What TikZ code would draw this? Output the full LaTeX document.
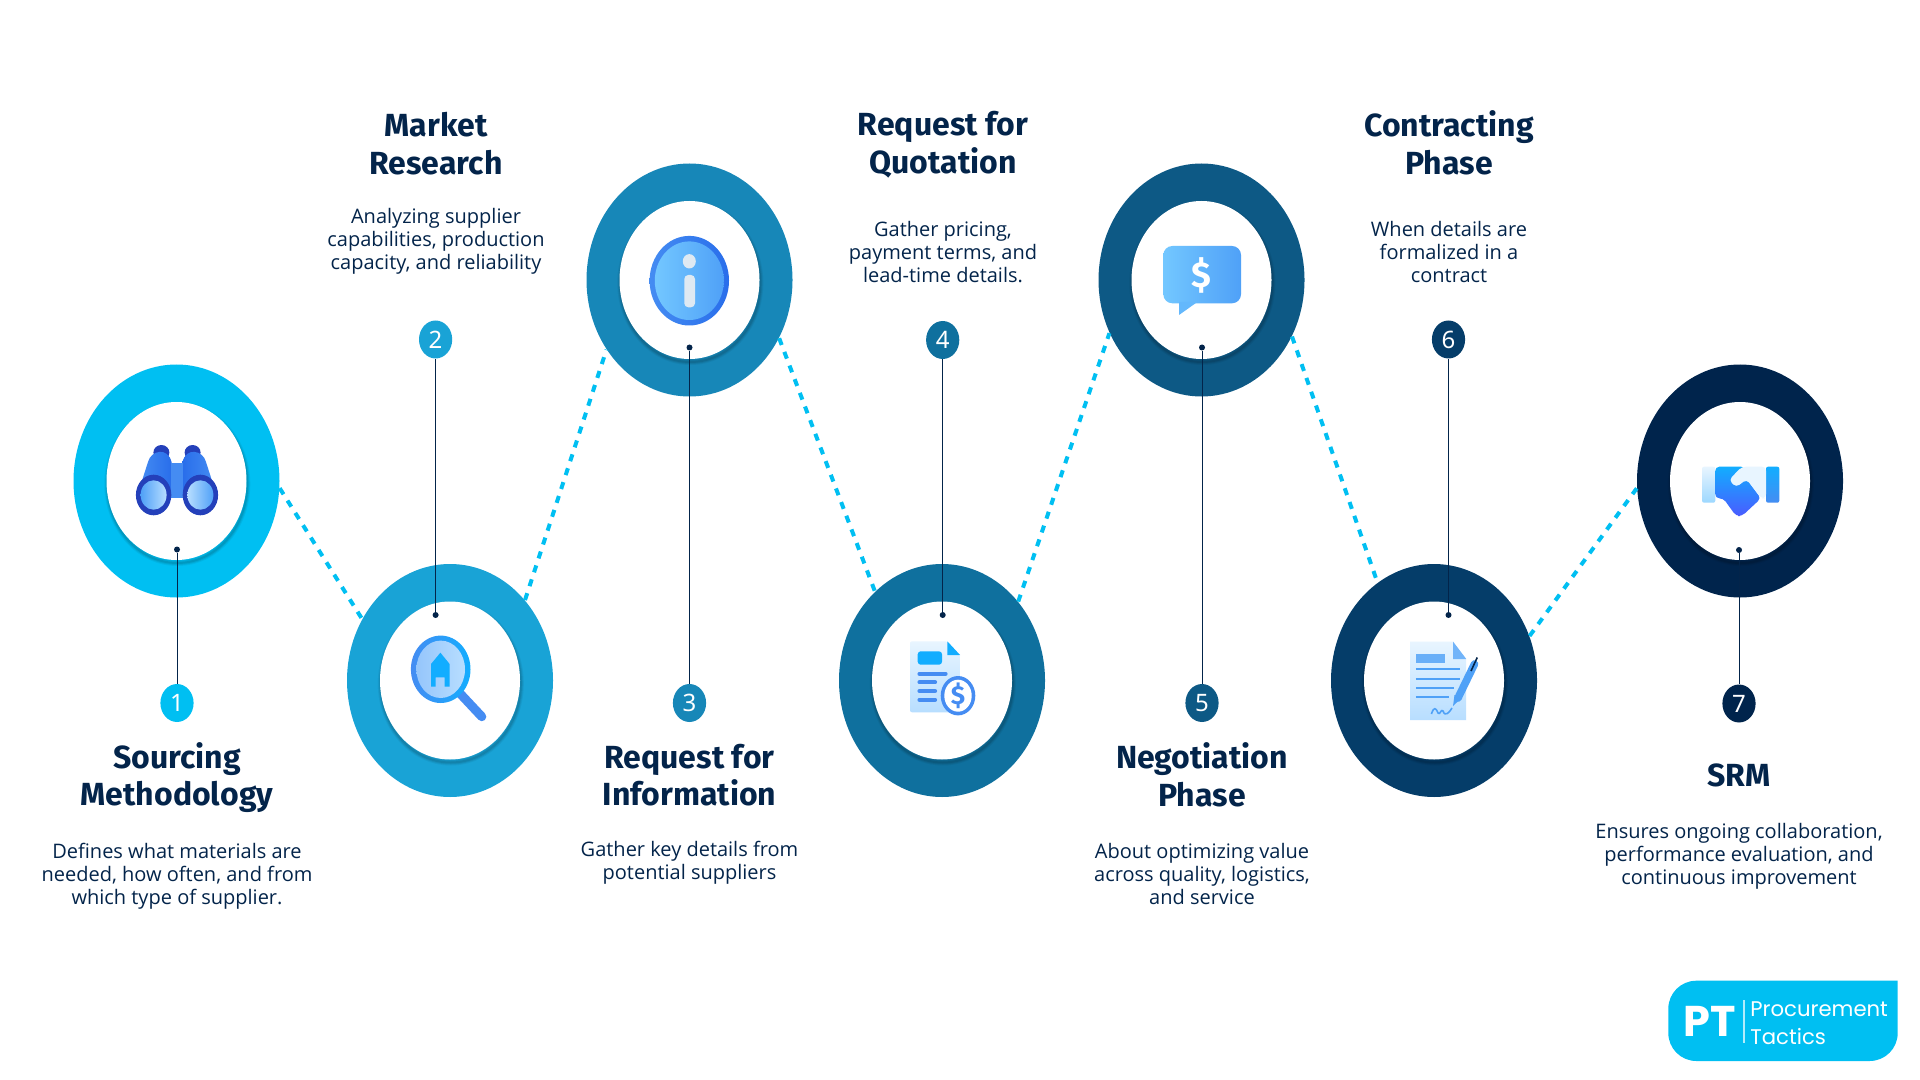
\documentclass[tikz,border=0pt]{standalone}
\usepackage{fontspec}
\setmainfont{Open Sans}
\newfontfamily\headfont{Fira Sans}
\newfontfamily\digitfont{Noto Sans}
\newfontfamily\logofont{Poppins}
\usetikzlibrary{shapes.geometric}
\definecolor{ringa}{rgb}{0,0.75,0.95}
\definecolor{ringb}{rgb}{0.1,0.64,0.84}
\definecolor{ringc}{rgb}{0.09,0.53,0.72}
\definecolor{ringd}{rgb}{0.06,0.44,0.62}
\definecolor{ringe}{rgb}{0.05,0.35,0.52}
\definecolor{ringf}{rgb}{0.02,0.24,0.41}
\definecolor{ringg}{rgb}{0,0.14,0.3}
\definecolor{inkblue}{rgb}{0.01,0.14,0.29}
\definecolor{icondark}{rgb}{0.14,0.25,0.73}
\definecolor{iconmid}{rgb}{0.16,0.43,0.92}
\definecolor{iconblue}{rgb}{0.27,0.55,0.95}
\definecolor{iconsky}{rgb}{0.07,0.68,1}
\definecolor{iconpale}{rgb}{0.91,0.96,1}
\definecolor{iconsoft}{rgb}{0.72,0.87,1}
\definecolor{iconlight}{rgb}{0.45,0.78,1}
\definecolor{iconwarm}{rgb}{0.31,0.63,0.97}
\definecolor{iconviolet}{rgb}{0.29,0.36,1}
\tikzset{
  ring/.style={ellipse,minimum width=103pt,minimum height=116.5pt,inner sep=0pt},
  hole/.style={ellipse,fill=white,minimum width=70pt,minimum height=79pt,inner sep=0pt,
    preaction={draw=black,draw opacity=0.05,line width=3pt,transform canvas={xshift=0.4pt,yshift=-1.5pt}},
    preaction={draw=black,draw opacity=0.07,line width=2pt,transform canvas={xshift=0.4pt,yshift=-1.5pt}},
    preaction={draw=black,draw opacity=0.09,line width=1pt,transform canvas={xshift=0.4pt,yshift=-1.5pt}}},
  badge/.style={ellipse,minimum width=16.6pt,minimum height=19pt,inner sep=0pt,text=white,font=\digitfont\fontsize{12}{12}\selectfont},
  pin/.style={circle,fill=inkblue,minimum size=3pt,inner sep=0pt},
  stem/.style={color=inkblue,line width=0.5pt},
  dotline/.style={color=ringa,line width=2pt,dash pattern=on 3.6pt off 3.7pt},
  title/.style={align=center,text=inkblue,font=\headfont\fontsize{16}{18.8}\selectfont\bfseries},
  desc/.style={align=center,text=inkblue,font=\fontsize{10}{11.6}\selectfont}
}
\begin{document}
\begin{tikzpicture}[line cap=butt,line join=round,x=0.5pt,y=-0.5pt]
\useasboundingbox (0,0) rectangle (1920,1080);
\node [ring,fill=ringa] (ring1) at (176.5,481) {};
\node [ring,fill=ringb] (ring2) at (450,680.5) {};
\node [ring,fill=ringc] (ring3) at (689.5,280) {};
\node [ring,fill=ringd] (ring4) at (942,680.5) {};
\node [ring,fill=ringe] (ring5) at (1201.5,280) {};
\node [ring,fill=ringf] (ring6) at (1434,680.5) {};
\node [ring,fill=ringg] (ring7) at (1740,481) {};
\node [hole] (hole1) at (176.5,481) {};
\node [hole] (hole2) at (450,680.5) {};
\node [hole] (hole3) at (689.5,280) {};
\node [hole] (hole4) at (942,680.5) {};
\node [hole] (hole5) at (1201.5,280) {};
\node [hole] (hole6) at (1434,680.5) {};
\node [hole] (hole7) at (1740,481) {};
\draw [dotline] (ring1.-4) -- (ring2.145);
\draw [dotline] (ring2.47) -- (ring3.-140);
\draw [dotline] (ring3.-33) -- (ring4.127);
\draw [dotline] (ring4.46) -- (ring5.-150);
\draw [dotline] (ring5.-32) -- (ring6.120);
\draw [dotline] (ring6.25) -- (ring7.-176);
%binoculars
\fill [color=icondark] (161.4,452.5) ellipse [x radius=8,y radius=7.5];
\fill [color=icondark] (192.6,452.5) ellipse [x radius=8,y radius=7.5];
\shade [left color=iconblue,right color=iconmid] (139,490) -- (148,462) .. controls (151,450) and (168,447) .. (171.5,462) -- (171.5,492) -- cycle;
\shade [left color=iconmid,right color=iconblue] (215,490) -- (206,462) .. controls (203,450) and (186,447) .. (182.5,462) -- (182.5,492) -- cycle;
\fill [color=iconblue] (171,463) rectangle (183,498);
\fill [color=icondark] (153.6,495) ellipse [x radius=17.7,y radius=20.3];
\fill [color=icondark] (200.4,495) ellipse [x radius=17.7,y radius=20.3];
\shade [left color=iconwarm,right color=iconsoft] (153.6,495) ellipse [x radius=13,y radius=14.7];
\shade [left color=iconsoft,right color=iconwarm] (200.4,495) ellipse [x radius=13,y radius=14.7];
%magnifier
\draw [line cap=round,line width=4.5pt,color=iconblue] (459.6,693) -- (481.8,716.7);
\shade [left color=iconblue,right color=iconsky] (440.7,669.3) ellipse [x radius=29.8,y radius=33.7];
\shade [left color=iconsoft!70!iconblue,right color=iconsoft] (440.7,669.3) ellipse [x radius=24.3,y radius=28.7];
\fill [color=iconsky] (440.4,652.7) -- (449.6,664) -- (449.6,686.7) -- (444.6,686.7) -- (444.6,677.3) -- (435.7,677.3) -- (435.7,686.7) -- (431,686.7) -- (431,664) -- cycle;
%info
\shade [shading angle=135,left color=iconblue,right color=iconmid] (689.3,280.7) ellipse [x radius=39.7,y radius=44.8];
\shade [shading angle=135,left color=iconlight,right color=iconwarm] (689.3,280.7) ellipse [x radius=34.5,y radius=39.3];
\fill [color=iconpale!90!gray] (689.3,261.3) ellipse [x radius=6.5,y radius=7.2];
\fill [color=iconpale!90!gray,rounded corners=2pt] (684.3,275) rectangle (695,307.3);
%quote sheet
\shade [top color=iconpale,bottom color=iconsoft,rounded corners=1pt] (910,641.3) -- (947.3,641.3) -- (960,655) -- (960,712.3) -- (910,712.3) -- cycle;
\fill [color=iconsky] (947.3,641.3) -- (960,655) -- (947.3,655) -- cycle;
\fill [color=iconsky,rounded corners=1.5pt] (917.7,651.3) rectangle (942,664.7);
\draw [line cap=round,line width=2.1pt,color=iconblue] (919.5,673.7) -- (945.5,673.7);
\draw [line cap=round,line width=2.1pt,color=iconblue] (919.5,682.3) -- (935,682.3);
\draw [line cap=round,line width=2.1pt,color=iconblue] (919.5,691) -- (935,691);
\draw [line cap=round,line width=2.1pt,color=iconblue] (919.5,699.7) -- (935,699.7);
\fill [color=iconblue] (958,695.7) ellipse [x radius=17.3,y radius=19.7];
\fill [color=white] (958,695.7) ellipse [x radius=13.7,y radius=16];
\node [text=iconblue,font=\headfont\fontsize{13}{13}\selectfont\bfseries] (coin4) at (958,695.7) {\$};
%speech bubble
\shade [shading angle=135,left color=iconlight,right color=iconwarm,rounded corners=4.5pt] (1163.3,246) rectangle (1241,303.3);
\fill [color=iconlight!60!iconwarm,line join=round] (1179,302) -- (1179,315) -- (1197.3,302) -- cycle;
\node [text=white,font=\headfont\fontsize{18}{18}\selectfont\bfseries] (coin5) at (1201.7,275) {\$};
%signed sheet
\shade [top color=iconpale,bottom color=iconsoft] (1410,641.7) -- (1453.1,641.7) -- (1466.2,659) -- (1466.2,720) -- (1410,720) -- cycle;
\fill [color=iconwarm!80!white] (1453.1,641.7) -- (1466.2,659) -- (1453.1,659) -- cycle;
\fill [color=iconwarm!85!white] (1415.9,654) rectangle (1445.2,663.3);
\draw [line width=0.85pt,color=iconwarm] (1415.9,669) -- (1460,669);
\draw [line width=0.85pt,color=iconwarm] (1415.9,678.7) -- (1460,678.7);
\draw [line width=0.85pt,color=iconwarm] (1415.9,688) -- (1453.8,688);
\draw [line width=0.85pt,color=iconwarm] (1415.9,697.3) -- (1449,697.3);
\draw [line width=0.8pt,color=iconwarm] (1431.4,714) .. controls (1434,706) and (1436,708) .. (1438,713) .. controls (1440,716) and (1441,708) .. (1443,711) .. controls (1445,717) and (1449,713) .. (1452,708);
\draw [line cap=round,line width=3.8pt,color=iconwarm] (1458,698) -- (1474.5,664);
\fill [color=iconwarm] (1453,706) -- (1454.5,695) -- (1461,698.5) -- cycle;
\draw [line width=0.8pt,color=inkblue] (1471,671) -- (1477.2,657.5);
%handshake
\shade [top color=iconpale,bottom color=iconlight!70!white,rounded corners=1pt] (1702,466.7) rectangle (1715.3,502.7);
\shade [top color=iconsky,bottom color=iconblue,rounded corners=1pt] (1766,466.7) rectangle (1779.3,502.7);
\shade [top color=iconsky,bottom color=iconviolet,rounded corners=2pt] (1715.3,466.7) -- (1745,466.7) -- (1730,480) -- (1746.7,479.3) -- (1761,498.3) -- (1742,516) -- (1736,516) -- (1723.3,498.3) -- (1715.3,498.3) -- cycle;
\fill [color=iconpale,rounded corners=2pt] (1741.7,466.7) -- (1766,466.7) -- (1766,498.3) -- (1761,498.3) -- (1746.7,479.3) -- (1736,487.3) -- (1729,480) -- cycle;
%pins and stems
\node [badge,fill=ringa] (badge1) at (177,703) {1};
\node [badge,fill=ringb] (badge2) at (435.6,339.5) {2};
\node [badge,fill=ringc] (badge3) at (689.5,703) {3};
\node [badge,fill=ringd] (badge4) at (942.7,340) {4};
\node [badge,fill=ringe] (badge5) at (1202,703) {5};
\node [badge,fill=ringf] (badge6) at (1448.5,339.5) {6};
\node [badge,fill=ringg] (badge7) at (1739,703.5) {\bfseries 7};
\node [pin] (pin1) at (177,549.5) {};
\node [pin] (pin2) at (435.6,615) {};
\node [pin] (pin3) at (689.5,347.5) {};
\node [pin] (pin4) at (942.7,615) {};
\node [pin] (pin5) at (1202,347.5) {};
\node [pin] (pin6) at (1448.5,615) {};
\node [pin] (pin7) at (1739,550) {};
\draw [stem] (pin1) -- (badge1);
\draw [stem] (pin2) -- (badge2);
\draw [stem] (pin3) -- (badge3);
\draw [stem] (pin4) -- (badge4);
\draw [stem] (pin5) -- (badge5);
\draw [stem] (pin6) -- (badge6);
\draw [stem] (pin7) -- (badge7);
%texts
\node [title] (title1) at (177,777.5) {Sourcing\\Methodology};
\node [title] (title2) at (436,143.5) {Market\\Research};
\node [title] (title3) at (689.5,775) {Request for\\Information};
\node [title] (title4) at (943,145) {Request for\\Quotation};
\node [title] (title5) at (1202,775) {Negotiation\\Phase};
\node [title] (title6) at (1449,143) {Contracting\\Phase};
\node [title] (title7) at (1739,775.5) {SRM};
\node [desc] (desc1) at (177,876.5) {Defines what materials are\\needed, how often, and from\\which type of supplier.};
\node [desc] (desc2) at (436,241.5) {Analyzing supplier\\capabilities, production\\capacity, and reliability};
\node [desc] (desc3) at (689.5,863) {Gather key details from\\potential suppliers};
\node [desc] (desc4) at (943,252) {Gather pricing,\\payment terms, and\\lead-time details.};
\node [desc] (desc5) at (1202,874) {About optimizing value\\across quality, logistics,\\and service};
\node [desc] (desc6) at (1449,252) {When details are\\formalized in a\\contract};
\node [desc] (desc7) at (1739,856) {Ensures ongoing collaboration,\\performance evaluation, and\\continuous improvement};
%logo
\fill [color=ringa] (1897.7,980.7) [rounded corners=14pt] -- (1668.3,980.7) -- (1668.3,1061) -- (1897.7,1061) [sharp corners] -- cycle;
\node [text=white,font=\logofont\fontsize{21.5}{21.5}\selectfont\bfseries] (logopt) at (1710,1021.7) {PT};
\coordinate (logotop) at (1744,1000);
\coordinate (logobot) at (1744,1043.3);
\draw [line width=0.6pt,color=white!70!ringa] (logotop) -- (logobot);
\node [anchor=west,inner sep=0pt,text=white,font=\logofont\fontsize{10.6}{10.6}\selectfont] (logoa) at (1750,1009) {Procurement};
\node [anchor=west,inner sep=0pt,text=white,font=\logofont\fontsize{10.6}{10.6}\selectfont] (logob) at (1750,1036.7) {Tactics};
\end{tikzpicture}
\end{document}
